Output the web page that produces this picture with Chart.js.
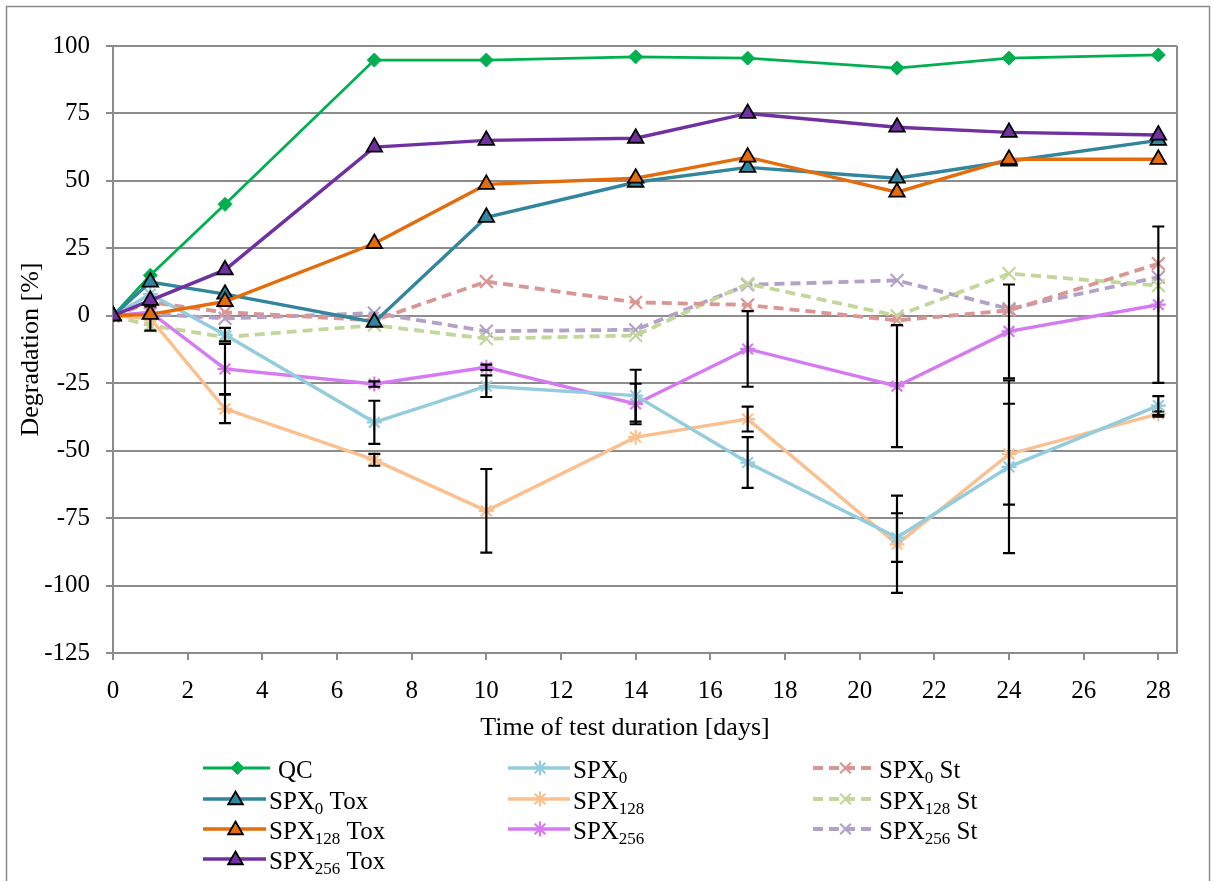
<!DOCTYPE html>
<html><head><meta charset="utf-8">
<script src="https://cdn.jsdelivr.net/npm/chart.js@4/dist/chart.umd.min.js"></script>
<style>html,body{margin:0;padding:0;background:#fff;}#wrap{width:1213px;height:881px;}</style>
</head><body><div id="wrap"><canvas id="c" width="1213" height="881"></canvas></div>
<script>
// ---- data ----
const days = [0, 1, 3, 7, 10, 14, 17, 21, 24, 28];
const xTickStep = 2;
const yTickStep = 25;
const qc        = [0, 15, 41.3, 94.8, 94.8, 96, 95.5, 91.8, 95.5, 96.7];
const spx0Tox   = [0, 12.5, 8, -2.4, 36.5, 49.5, 55, 51, 57.3, 65];
const spx128Tox = [0, 0.5, 5.3, 26.8, 48.7, 51, 58.8, 45.8, 58, 58];
const spx256Tox = [0, 5.7, 17, 62.5, 65, 65.8, 75, 69.9, 68, 67];
const spx0      = [0, 8, -7, -39.5, -26.1, -29.6, -54.4, -82.2, -56, -33.3];
const spx128    = [0, -1, -34.5, -53.4, -72.3, -45, -38.3, -84.7, -51.3, -36.4];
const spx256    = [0, 1.3, -19.7, -25.3, -19.1, -32.7, -12.3, -26.1, -5.8, 4.1];
const spx0St    = [0, 5, 1.3, -1.7, 12.7, 5, 4, -1.7, 2, 19.3];
const spx128St  = [0, -3.6, -7.9, -3.5, -8.5, -7.3, 11.9, 0, 15.6, 11.2];
const spx256St  = [0, 0.8, -1, 1, -5.7, -5.2, 11.5, 13.1, 2.6, 14.3];
const spx0Err   = [0, 0, 2.5, 8, 4, 9.6, 9.4, 9, 32, 3.5];
const spx128Err = [0, 4.5, 5.3, 2.2, 15.5, 0, 4.6, 18, 18.7, 1];
const spx256Err = [0, 0, 9.3, 1, 1, 7.5, 14, 22.6, 17.4, 29];
const xTitle = 'Time of test duration [days]';
const yTitle = 'Degradation [%]';

const FONT = "'Liberation Serif', 'Times New Roman', serif";
const GRID = '#8C8C8C';

function pts(arr){ return days.map((d,i)=>({x:d, y:arr[i]})); }

function solid(label, data, color, style, order, opts){
  return Object.assign({
    label, data: pts(data), borderColor: color, backgroundColor: color,
    borderWidth: 3.4, pointStyle: style, pointRadius: 7.5, pointBorderWidth: 2.2,
    pointBackgroundColor: color, pointBorderColor: color, order, fill:false, tension:0
  }, opts||{});
}

const datasets = [
  solid('QC', qc, '#00B050', 'rectRot', 0, {borderWidth:2.8, pointRadius:7, pointBorderWidth:1}),
  solid('SPX₀ Tox', spx0Tox, '#31859C', 'triangle', -1, {pointRadius:9, pointBorderColor:'#000', pointBorderWidth:1.8}),
  solid('SPX₁₂₈ Tox', spx128Tox, '#E46C0A', 'triangle', -2, {pointRadius:9, pointBorderColor:'#000', pointBorderWidth:1.8}),
  solid('SPX₂₅₆ Tox', spx256Tox, '#7030A0', 'triangle', -3, {pointRadius:9, pointBorderColor:'#000', pointBorderWidth:1.8}),
  solid('SPX₀', spx0, '#93CDDD', 'star', 1, {errors: spx0Err}),
  solid('SPX₁₂₈', spx128, '#FAC090', 'star', 1, {errors: spx128Err}),
  solid('SPX₂₅₆', spx256, '#D57AF0', 'star', 1, {errors: spx256Err}),
  solid('SPX₀ St', spx0St, '#D99694', 'crossRot', 2, {borderWidth:3.8, borderDash:[10,6], pointRadius:9}),
  solid('SPX₁₂₈ St', spx128St, '#C3D69B', 'crossRot', 2, {borderWidth:3.8, borderDash:[10,6], pointRadius:9}),
  solid('SPX₂₅₆ St', spx256St, '#B3A2C7', 'crossRot', 2, {borderWidth:3.8, borderDash:[10,6], pointRadius:9})
];

// legend: [datasetIndex, column, row, parts]
const legendLayout = [
  [0,0,0,[['QC']]],
  [1,0,1,[['SPX'],['0',1],[' Tox']]],
  [2,0,2,[['SPX'],['128',1],[' Tox']]],
  [3,0,3,[['SPX'],['256',1],[' Tox']]],
  [4,1,0,[['SPX'],['0',1]]],
  [5,1,1,[['SPX'],['128',1]]],
  [6,1,2,[['SPX'],['256',1]]],
  [7,2,0,[['SPX'],['0',1],[' St']]],
  [8,2,1,[['SPX'],['128',1],[' St']]],
  [9,2,2,[['SPX'],['256',1],[' St']]]
];

const bgPlugin = {
  id:'bg',
  beforeDraw(chart){
    const ctx = chart.ctx;
    ctx.save(); ctx.fillStyle='#fff'; ctx.fillRect(0,0,chart.width,chart.height);
    ctx.strokeStyle='#8C8C8C'; ctx.lineWidth=1.5;
    ctx.strokeRect(6.5,6.5,chart.width-10,chart.height+20);
    ctx.restore();
  },
  beforeDatasetsDraw(chart){
    const {ctx, chartArea:a} = chart;
    ctx.save(); ctx.strokeStyle=GRID; ctx.lineWidth=2;
    ctx.beginPath(); ctx.moveTo(a.right, a.top); ctx.lineTo(a.right, a.bottom); ctx.stroke();
    ctx.fillStyle='#000'; ctx.font='26px '+FONT; ctx.textAlign='center'; ctx.textBaseline='middle';
    ctx.fillText(xTitle, 625, 728);
    ctx.restore();
  }
};

const errPlugin = {
  id:'errBars',
  afterDatasetDraw(chart, args){
    const ds = chart.data.datasets[args.index];
    if (!ds.errors) return;
    const {ctx, scales:{x, y}} = chart;
    ctx.save(); ctx.strokeStyle='#000'; ctx.lineWidth=2.2;
    ds.data.forEach((p,i)=>{
      const e = ds.errors[i]; if (!e) return;
      const px = x.getPixelForValue(p.x);
      const y1 = y.getPixelForValue(p.y+e), y2 = y.getPixelForValue(p.y-e);
      ctx.beginPath();
      ctx.moveTo(px,y1); ctx.lineTo(px,y2);
      ctx.moveTo(px-6,y1); ctx.lineTo(px+6,y1);
      ctx.moveTo(px-6,y2); ctx.lineTo(px+6,y2);
      ctx.stroke();
    });
    ctx.restore();
  }
};

const legendPlugin = {
  id:'customLegend',
  afterDraw(chart){
    const ctx = chart.ctx;
    const colX = [203, 508, 813], colW = [63, 62, 63];
    const rowY = [768, 799, 829, 859];
    ctx.save();
    legendLayout.forEach(([di, c, r, parts])=>{
      const ds = chart.data.datasets[di];
      const y = rowY[r];
      let x0 = colX[c], w = colW[c];
      if (di === 0) w = 67;
      ctx.save();
      ctx.strokeStyle = ds.borderColor; ctx.lineWidth = ds.borderWidth;
      ctx.setLineDash(ds.borderDash || []);
      ctx.beginPath(); ctx.moveTo(x0, y); ctx.lineTo(x0+w, y); ctx.stroke();
      ctx.setLineDash([]);
      ctx.fillStyle = ds.pointBackgroundColor; ctx.strokeStyle = ds.pointBorderColor;
      ctx.lineWidth = ds.pointBorderWidth;
      const opts = {pointStyle: ds.pointStyle, radius: ds.pointStyle==='triangle'?8.5:(ds.pointStyle==='rectRot'?6.5:7.5), rotation:0, borderWidth: ds.pointBorderWidth};
      const mx = x0 + w/2 + 1, my = ds.pointStyle==='triangle' ? y+1 : y;
      Chart.helpers.drawPoint(ctx, opts, mx, my);
      ctx.restore();
      let tx = x0 + w + (di===0 ? 8 : 3);
      const base = y + 10;
      ctx.fillStyle = '#000'; ctx.textBaseline = 'alphabetic'; ctx.textAlign='left';
      parts.forEach(([t, sub])=>{
        ctx.font = (sub ? '17px ' : '25px ') + FONT;
        ctx.fillText(t, tx, sub ? base + 5 : base);
        tx += ctx.measureText(t).width;
      });
    });
    ctx.restore();
  }
};

new Chart(document.getElementById('c'), {
  type:'line',
  data:{datasets},
  plugins:[bgPlugin, errPlugin, legendPlugin],
  options:{
    responsive:false, animation:false, devicePixelRatio:1,
    layout:{padding:{left:0, right:36, top:46, bottom:133}},
    plugins:{legend:{display:false}, tooltip:{enabled:false}},
    scales:{
      x:{
        type:'linear', min:0, max:28.5,
        ticks:{stepSize:xTickStep, includeBounds:false, color:'#000', font:{family:FONT, size:25}, padding:16, maxRotation:0, autoSkip:false},
        grid:{drawOnChartArea:false, drawTicks:true, tickLength:7, color:GRID, lineWidth:2},
        border:{color:GRID, width:2},
        title:{display:false},
        afterFit(s){ s.height = 95; }
      },
      y:{
        min:-125, max:100,
        ticks:{stepSize:yTickStep, color:'#000', font:{family:FONT, size:25}, padding:16, callback:v=>String(v)},
        grid:{color:GRID, lineWidth:2, tickLength:7},
        border:{color:GRID, width:2},
        title:{display:true, text:yTitle, color:'#000', font:{family:FONT, size:26}, padding:{top:16, bottom:0}},
        afterFit(s){ s.width = 113; }
      }
    }
  }
});
</script></body></html>
